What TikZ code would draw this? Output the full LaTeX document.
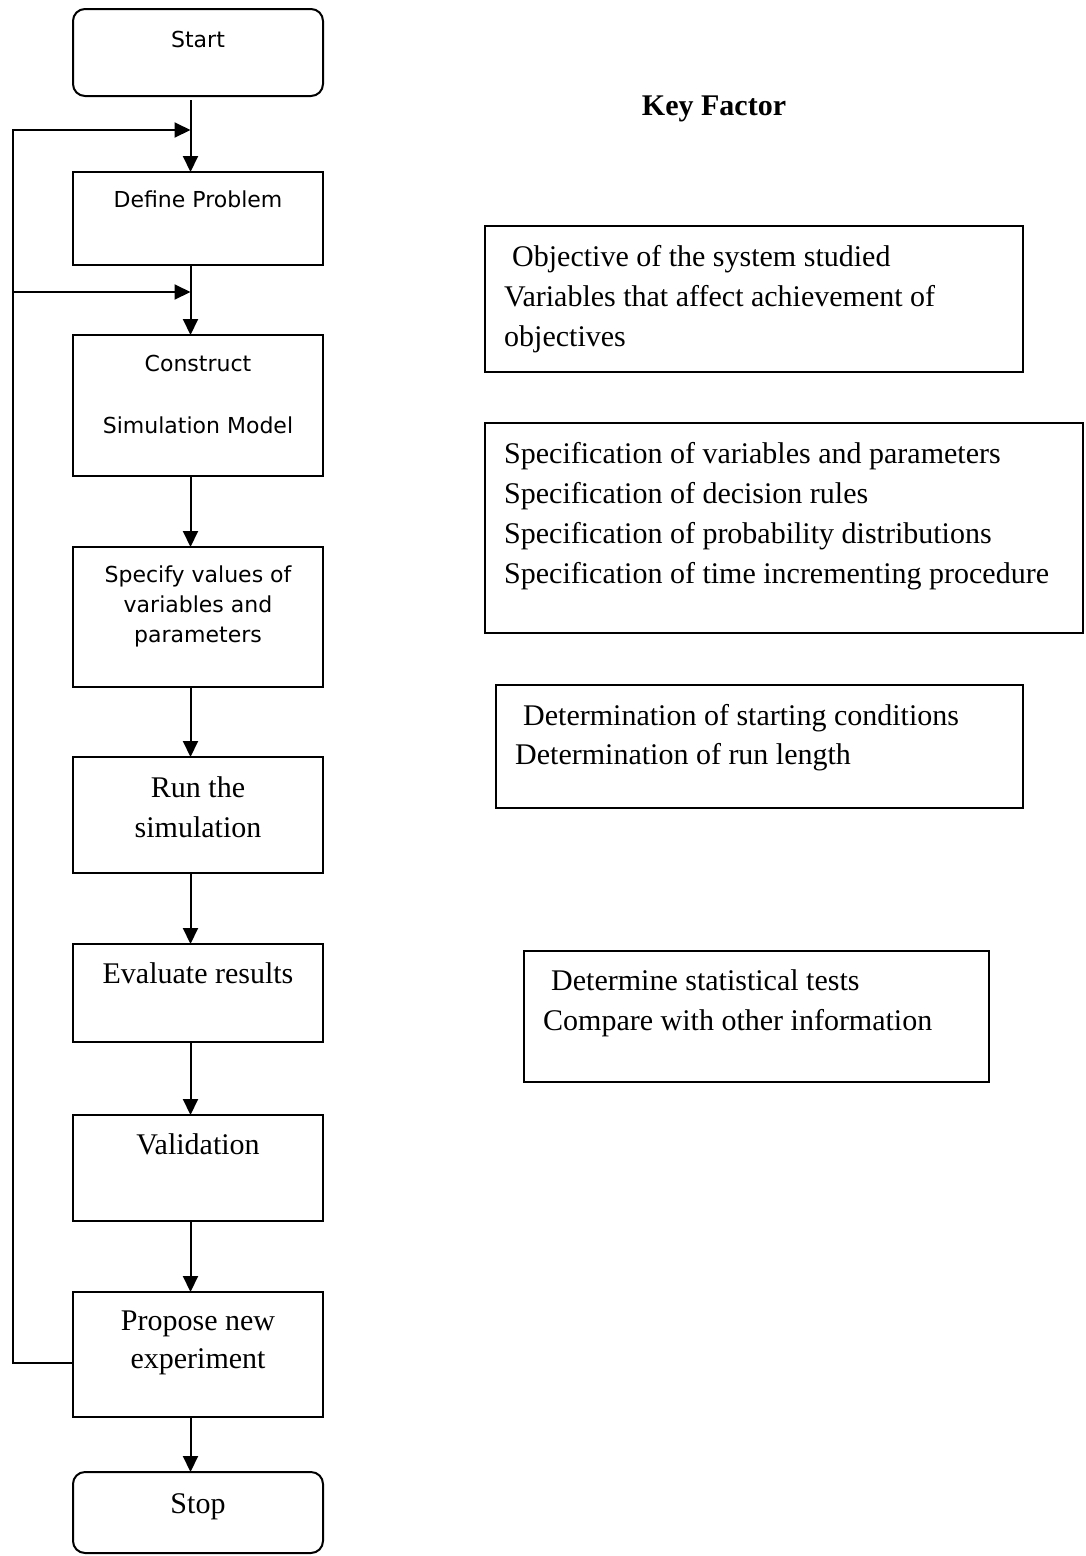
\documentclass[tikz,border=0pt]{standalone}
\usepackage{fontspec}
\setmainfont{Liberation Serif}
\newfontfamily\boxsans{DejaVu Sans}
\usetikzlibrary{arrows.meta}
\begin{document}
\begin{tikzpicture}[x=1pt,y=-1pt,
  box/.style={draw, line width=2pt, anchor=north west, inner sep=0pt, outer sep=0pt, minimum width=250pt},
  rbox/.style={box, rounded corners=12pt},
  sanstext/.style={font=\boxsans\fontsize{22}{26}\selectfont, anchor=base, inner sep=0pt},
  seriftext/.style={font=\fontsize{30}{36}\selectfont, anchor=base, inner sep=0pt},
  keytext/.style={seriftext, anchor=base west},
  arr/.style={line width=2pt, -{Triangle[length=16pt,width=15pt]}}]
\useasboundingbox (0,0) rectangle (1085,1556);
\fill[white] (0,0) rectangle (1085,1556);

% flow boxes
\node[rbox, minimum height=87pt] (start) at (73,9) {};
\node[box, minimum height=93pt] (define) at (73,172) {};
\node[box, minimum height=141pt] (construct) at (73,335) {};
\node[box, minimum height=140pt] (specify) at (73,547) {};
\node[box, minimum height=116pt] (run) at (73,757) {};
\node[box, minimum height=98pt] (evaluate) at (73,944) {};
\node[box, minimum height=106pt] (validation) at (73,1115) {};
\node[box, minimum height=125pt] (propose) at (73,1292) {};
\node[rbox, minimum height=81pt] (stop) at (73,1472) {};

% flow texts
\node[sanstext] (tstart) at (198,47) {Start};
\node[sanstext] (tdefine) at (198,207) {Define Problem};
\node[sanstext] (tcons1) at (198,371) {Construct};
\node[sanstext] (tcons2) at (198,433) {Simulation Model};
\node[sanstext] (tspec1) at (198,582) {Specify values of};
\node[sanstext] (tspec2) at (198,612) {variables and};
\node[sanstext] (tspec3) at (198,642) {parameters};
\node[seriftext] (trun1) at (198,797) {Run the};
\node[seriftext] (trun2) at (198,837) {simulation};
\node[seriftext] (teval) at (198,983) {Evaluate results};
\node[seriftext] (tvalid) at (198,1154) {Validation};
\node[seriftext] (tprop1) at (198,1330) {Propose new};
\node[seriftext] (tprop2) at (198,1368) {experiment};
\node[seriftext] (tstop) at (198,1513) {Stop};

% key factor column
\node[seriftext, font=\bfseries\fontsize{30}{36}\selectfont] (key) at (714,115) {Key Factor};

\node[box, minimum width=538pt, minimum height=146pt] (k1) at (485,226) {};
\node[keytext] (k1a) at (512,266) {Objective of the system studied};
\node[keytext] (k1b) at (504,306) {Variables that affect achievement of};
\node[keytext] (k1c) at (504,346) {objectives};

\node[box, minimum width=598pt, minimum height=210pt] (k2) at (485,423) {};
\node[keytext] (k2a) at (504,463) {Specification of variables and parameters};
\node[keytext] (k2b) at (504,503) {Specification of decision rules};
\node[keytext] (k2c) at (504,543) {Specification of probability distributions};
\node[keytext] (k2d) at (504,583) {Specification of time incrementing procedure};

\node[box, minimum width=527pt, minimum height=123pt] (k3) at (496,685) {};
\node[keytext] (k3a) at (523,725) {Determination of starting conditions};
\node[keytext] (k3b) at (515,764) {Determination of run length};

\node[box, minimum width=465pt, minimum height=131pt] (k4) at (524,951) {};
\node[keytext] (k4a) at (551,990) {Determine statistical tests};
\node[keytext] (k4b) at (543,1030) {Compare with other information};

% connectors
\coordinate (axis) at (190.5,0);
\coordinate (L1) at (13,130);
\coordinate (L2) at (13,292);
\coordinate (Lb) at (13,1363);
\coordinate (Pout) at (73,1363);
\coordinate (J1) at (190.5,130);
\coordinate (J2) at (190.5,292);

\draw[arr] ([yshift=-4pt]start.south -| axis) -- (define.north -| axis);
\draw[arr] (define.south -| axis) -- (construct.north -| axis);
\draw[arr] (construct.south -| axis) -- (specify.north -| axis);
\draw[arr] (specify.south -| axis) -- (run.north -| axis);
\draw[arr] (run.south -| axis) -- (evaluate.north -| axis);
\draw[arr] (evaluate.south -| axis) -- (validation.north -| axis);
\draw[arr] (validation.south -| axis) -- (propose.north -| axis);
\draw[arr] (propose.south -| axis) -- (stop.north -| axis);

\draw[arr] (Pout) -- (Lb) -- (L1) -- (J1);
\draw[arr] ([xshift=-1pt]L2) -- (J2);
\end{tikzpicture}
\end{document}
